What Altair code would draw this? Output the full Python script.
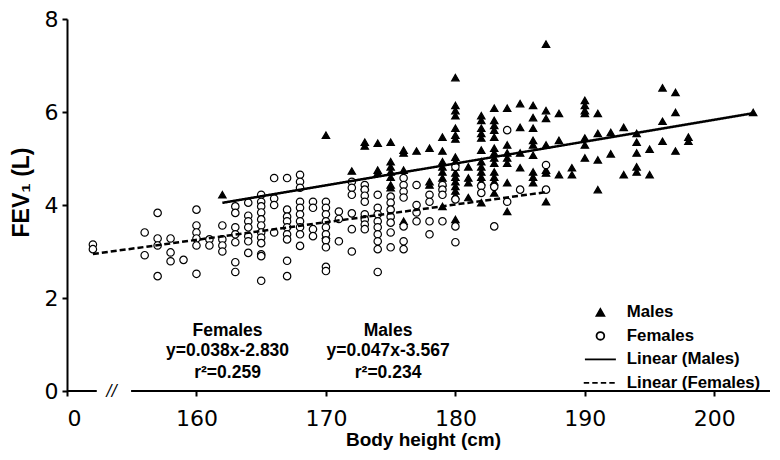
import altair as alt
import pandas as pd

# ---- data (height in cm -> FEV1 in L) ----
males = {
    162: [4.22],
    170: [5.50, 3.35],
    172: [4.73],
    173: [5.35, 5.27, 4.40],
    174: [5.33, 4.75, 4.69],
    175: [5.35, 4.93, 4.82, 4.71, 4.60, 4.43, 4.37],
    176: [5.18, 5.12, 4.75, 3.65],
    177: [5.16],
    178: [5.22, 4.50, 4.43],
    179: [5.46, 5.16, 4.93, 4.82, 4.71, 4.58, 4.48, 3.97],
    180: [6.74, 6.14, 6.03, 5.92, 5.65, 5.50, 5.42, 5.03, 4.93, 4.82, 4.69, 4.60, 4.50, 4.40, 4.30, 4.20, 3.69],
    181: [4.82, 4.58, 4.48, 4.16],
    182: [5.92, 5.82, 5.65, 5.54, 5.44, 5.18, 4.93, 4.82, 4.71, 4.60, 4.50, 4.05],
    183: [6.08, 5.82, 5.71, 5.61, 5.46, 5.22, 5.12, 5.01, 4.90, 4.71, 4.60, 4.50, 4.26],
    184: [6.08, 5.29, 5.12, 5.01, 4.90, 4.48, 3.86],
    185: [6.18, 5.67, 5.12, 4.80],
    186: [6.14, 5.88, 5.65, 5.39, 5.29, 5.07, 4.71, 4.60, 4.48],
    187: [7.46, 6.03, 5.86, 5.29, 4.75, 4.69, 4.07],
    188: [5.97, 5.39, 4.65],
    189: [4.80, 4.65],
    190: [6.25, 6.14, 6.03, 5.97, 5.44, 5.29, 5.01],
    191: [5.97, 5.54, 4.97, 4.33],
    192: [5.56, 5.10],
    193: [5.67, 4.65],
    194: [5.54, 5.35, 5.12, 4.82, 4.71],
    195: [5.20, 4.65],
    196: [6.52, 5.80, 5.37],
    197: [6.42, 5.99, 5.16],
    198: [5.46, 5.37],
    203: [5.99],
}

females = {
    152: [3.15, 3.05],
    156: [3.41, 2.92],
    157: [3.83, 3.28, 3.13, 2.47],
    158: [3.28, 2.98, 2.79],
    159: [2.82],
    160: [3.90, 3.56, 3.41, 3.28, 3.13, 2.52],
    161: [3.26, 3.13],
    162: [3.56, 3.26, 3.13, 3.00],
    163: [3.97, 3.83, 3.52, 3.37, 3.20, 2.77, 2.56],
    164: [4.05, 3.77, 3.65, 3.52, 3.33, 3.22, 2.97],
    165: [4.22, 4.07, 3.97, 3.84, 3.69, 3.56, 3.41, 3.30, 3.18, 2.94, 2.90, 2.37],
    166: [4.58, 4.14, 4.00, 3.41],
    167: [4.58, 3.90, 3.75, 3.65, 3.52, 3.37, 3.26, 2.80, 2.47],
    168: [4.65, 4.50, 4.37, 4.07, 3.94, 3.80, 3.65, 3.52, 3.37, 3.12],
    169: [4.07, 3.94, 3.48, 3.33],
    170: [4.07, 3.94, 3.80, 3.65, 3.52, 3.37, 3.24, 3.09, 2.67, 2.58],
    171: [3.86, 3.70, 3.22],
    172: [4.50, 4.37, 4.22, 3.82, 3.48, 3.00],
    173: [4.43, 4.33, 4.20, 4.07, 3.80, 3.69, 3.58, 3.48],
    174: [4.22, 3.94, 3.80, 3.65, 3.52, 3.37, 3.22, 3.05, 2.56],
    175: [4.18, 4.05, 3.90, 3.75, 3.62, 3.41, 3.09],
    176: [4.58, 4.43, 4.29, 4.16, 3.54, 3.22, 3.05],
    177: [4.43, 4.00, 3.84, 3.65],
    178: [4.22, 4.07, 3.65, 3.37],
    179: [4.43, 4.33, 4.22, 3.65],
    180: [4.82, 4.12, 3.54, 3.20],
    182: [4.41, 4.26],
    183: [4.39, 3.54],
    184: [5.61, 4.07],
    185: [4.33],
    187: [4.86, 4.33],
}

series = ["Males", "Females", "Linear (Males)", "Linear (Females)"]
fit_group = ["Males", "Females"]
fit_slope = [0.047, 0.038]
fit_intercept = [-3.567, -2.830]
fit_x_start = [162, 152]
fit_x_end = [203, 187]

x_ticks = [150, 160, 170, 180, 190, 200]
y_ticks = [0, 2, 4, 6, 8]

ann_text = ["Females", "y=0.038x-2.830", "r²=0.259",
            "Males", "y=0.047x-3.567", "r²=0.234"]
ann_x = [162.4, 162.4, 162.4, 174.8, 174.8, 174.8]
ann_y = [1.28, 0.85, 0.38, 1.28, 0.85, 0.38]

axis_seg_start = [150, 154.95]
axis_seg_end = [152.3, 204.3]
break_x = [153.45]

# ---- tables ----
rows = [(h, v, "Males") for h, vs in males.items() for v in vs]
rows += [(h, v, "Females") for h, vs in females.items() for v in vs]
pts = pd.DataFrame(rows, columns=["height", "fev", "group"])

fit_rows = []
for g, s, b, x0, x1 in zip(fit_group, fit_slope, fit_intercept, fit_x_start, fit_x_end):
    for xv in (x0, x1):
        fit_rows.append((g, xv, s * xv + b))
fits = pd.DataFrame(fit_rows, columns=["group", "height", "fev"])

ann = pd.DataFrame({"text": ann_text, "x": ann_x, "y": ann_y})
segs = pd.DataFrame({"x": axis_seg_start, "x2": axis_seg_end, "y": [0, 0]})
brk = pd.DataFrame({"x": break_x, "y": [0], "t": ["//"]})

xscale = alt.Scale(domain=[150, 204.3], nice=False, zero=False)
yscale = alt.Scale(domain=[0, 8], nice=False)

legend = alt.Legend(
    title=None, orient="none", legendX=525, legendY=285,
    labelFont="Liberation Sans", labelFontSize=16.8, labelFontWeight="bold",
    labelColor="black", symbolSize=60, symbolStrokeWidth=1.8,
    symbolStrokeColor="black", labelOffset=18, rowPadding=5.5, padding=0,
)

x_enc = alt.X(
    "height:Q", scale=xscale, title="Body height (cm)",
    axis=alt.Axis(values=x_ticks, domain=False, grid=False,
                  labelExpr="datum.value == 150 ? '0' : datum.label",
                  labelPadding=12, labelFontSize=22,
                  titleFontSize=19, titleX=356, titleY=48,
                  titleBaseline="middle"),
)
y_enc = alt.Y(
    "fev:Q", scale=yscale, title="FEV₁ (L)",
    axis=alt.Axis(values=y_ticks, grid=False, labelPadding=4, labelFontSize=22,
                  titleFontSize=23, titleX=-46, titleY=173,
                  titleBaseline="middle"),
)

points = alt.Chart(pts).mark_point(strokeWidth=1.2, opacity=1, size=55).encode(
    x=x_enc,
    y=y_enc,
    shape=alt.Shape("group:N", scale=alt.Scale(
        domain=series,
        range=["triangle-up", "circle", "M-4,0H4",
               "M-4.3,0H-2.9M-2.1,0H-0.7M0.1,0H1.5M2.3,0H3.7"]),
        legend=legend),
    fill=alt.Fill("group:N", scale=alt.Scale(
        domain=series, range=["black", "white", "transparent", "transparent"]),
        legend=legend),
    stroke=alt.Stroke("group:N", scale=alt.Scale(
        domain=series, range=["black", "black", "black", "black"]),
        legend=legend),
)

lines = alt.Chart(fits).mark_line(color="black", strokeWidth=2.5).encode(
    x="height:Q", y="fev:Q",
    detail="group:N",
    strokeDash=alt.StrokeDash("group:N", scale=alt.Scale(
        domain=["Males", "Females"], range=[[1, 0], [6, 3]]), legend=None),
)

axis_line = alt.Chart(segs).mark_rule(color="black", strokeWidth=2).encode(
    x="x:Q", x2="x2:Q", y="y:Q"
)

brk_text = alt.Chart(brk).mark_text(font="DejaVu Sans", fontSize=15, fontStyle="italic",
                                    color="black", baseline="middle").encode(
    x="x:Q", y="y:Q", text="t:N"
)

notes = alt.Chart(ann).mark_text(font="Liberation Sans", fontSize=17.5, fontWeight="bold",
                                 color="black", baseline="middle", align="center").encode(
    x="x:Q", y="y:Q", text="text:N"
)

chart = alt.layer(points, lines, axis_line, brk_text, notes).properties(
    width=703, height=372,
    autosize=alt.AutoSizeParams(type="none"),
    padding={"left": 59, "top": 11, "right": 2, "bottom": 59},
).configure_view(stroke=None).configure_axis(
    labelFont="DejaVu Sans", labelFontSize=22, labelColor="black",
    tickColor="black", tickWidth=2, tickSize=5,
    domainColor="black", domainWidth=2,
    titleFont="Liberation Sans", titleFontWeight="bold", titleColor="black",
)

chart.save("out.html", embed_options={"renderer": "svg", "actions": False})
